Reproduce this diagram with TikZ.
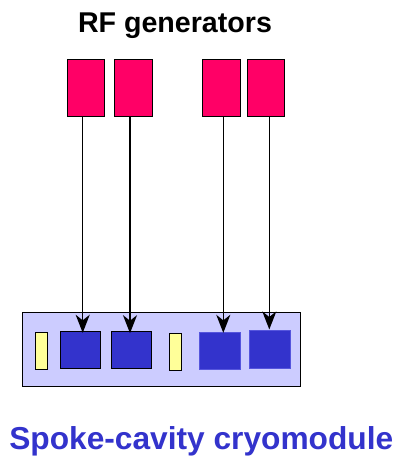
\documentclass[tikz,border=0pt]{standalone}
\usepackage{fontspec}
\setmainfont{Liberation Sans}
\usetikzlibrary{arrows.meta}
\definecolor{genred}{HTML}{FF0066}
\definecolor{cmfill}{HTML}{CCCCFF}
\definecolor{cavblue}{HTML}{3333CC}
\definecolor{cavedge}{HTML}{5555DD}
\definecolor{coupler}{HTML}{FFFF99}
\begin{document}
\begin{tikzpicture}[x=1pt,y=-1pt,
  gen/.style={draw=black,line width=1pt,fill=genred,minimum width=37.5pt,minimum height=57pt,inner sep=0pt},
  module/.style={draw=black,line width=1pt,fill=cmfill,inner sep=0pt},
  cav/.style={draw=black,line width=1pt,fill=cavblue,minimum width=40.5pt,minimum height=37pt,inner sep=0pt},
  cavplain/.style={draw=cavedge,line width=0.6pt,fill=cavblue,minimum width=41pt,minimum height=37.5pt,inner sep=0pt},
  coup/.style={draw=black,line width=0.8pt,fill=coupler,minimum width=12pt,minimum height=36.5pt,inner sep=0pt},
  feed/.style={draw=black,line width=1.5pt,-{Stealth[length=18pt,width=14pt,inset=5.5pt]}},
  title/.style={font=\bfseries\fontsize{28.6}{30}\selectfont,inner sep=0pt,anchor=base}
]
\useasboundingbox (0,0) rectangle (398,457);
\node[title] (t1) at (175,32.3) {RF generators};
\node[title,text=cavblue,font=\bfseries\fontsize{31.7}{34}\selectfont] (t2) at (201.3,449) {Spoke-cavity cryomodule};
% generators
\node[gen] (g1) at (86.2,87.8) {};
\node[gen] (g2) at (133.3,88.3) {};
\node[gen] (g3) at (221.3,87.8) {};
\node[gen] (g4) at (266,88.2) {};
% cryomodule
\node[module,minimum width=277.7pt,minimum height=74pt] (cm) at (161.2,349.7) {};
\node[coup] (y1) at (41.3,350.7) {};
\node[coup] (y2) at (175.5,351.7) {};
\node[cav] (c1) at (80.5,349.8) {};
\node[cav] (c2) at (131.5,350.2) {};
\node[cavplain] (c3) at (219.3,350.9) {};
\node[cavplain] (c4) at (270,349.5) {};
% feed lines
\draw[feed] ([xshift=-3.5pt]g1.south) -- ([xshift=-3.5pt,yshift=-2pt]g1.south |- c1.north);
\draw[feed] ([xshift=-3.3pt]g2.south) -- ([xshift=-3.3pt,yshift=-2pt]g2.south |- c2.north);
\draw[feed] ([xshift=2pt]g3.south) -- ([xshift=2pt,yshift=-1pt]g3.south |- c3.north);
\draw[feed] ([xshift=3.3pt]g4.south) -- ([xshift=3.3pt,yshift=1pt]g4.south |- c4.north);
\end{tikzpicture}
\end{document}
